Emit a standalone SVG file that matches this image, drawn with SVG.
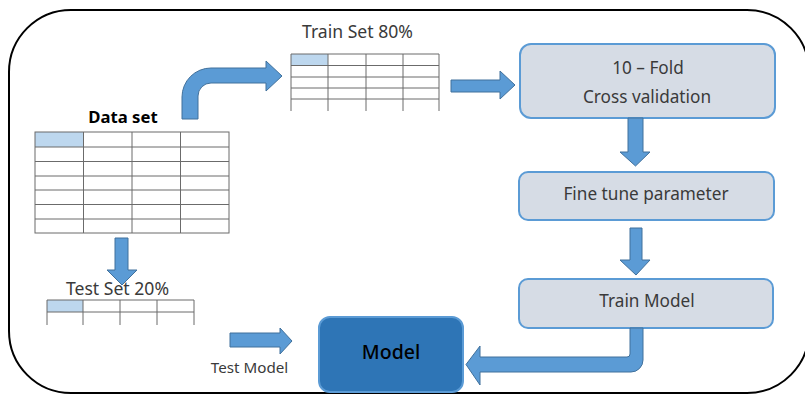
<svg xmlns="http://www.w3.org/2000/svg" width="805" height="394" viewBox="0 0 805 394">
<style>
.txt{font-family:"Noto Sans","Open Sans",sans-serif;fill:#3a3a3a}
.box{fill:#D6DCE5;stroke:#5B9BD5;stroke-width:2}
.arr{fill:#5B9BD5;stroke:#41719C;stroke-width:1}
.grid{stroke:#6b6b6b;stroke-width:1;fill:none}
.hl{fill:#BDD7EE}
</style>
<rect x="9" y="10" width="800" height="383" rx="62" ry="62" fill="#fff" stroke="#000" stroke-width="2"/>

<g id="dataset">
<text class="txt" x="123" y="123" font-size="16.7" font-weight="bold" text-anchor="middle" style="fill:#000">Data set</text>
<rect class="hl" x="35" y="132" width="48.5" height="15"/>
<g class="grid">
<rect x="35" y="132" width="194" height="101"/>
<path d="M83.5,132V233M132,132V233M180.5,132V233M35,147H229M35,161.5H229M35,176H229M35,190H229M35,204.5H229M35,219H229"/>
</g>
</g>

<g id="trainset">
<text class="txt" x="357.5" y="38" font-size="17.6" text-anchor="middle">Train Set 80%</text>
<rect class="hl" x="291" y="54" width="37" height="11.5"/>
<g class="grid">
<path d="M291,54H439M291,65.5H439M291,77H439M291,88H439M291,99H439M291,54V111M328,54V111M366,54V111M403,54V111M439,54V111"/>
</g>
</g>

<g id="testset">
<text class="txt" x="117.5" y="295" font-size="17.6" text-anchor="middle">Test Set 20%</text>
<rect class="hl" x="47" y="300" width="36" height="12"/>
<g class="grid">
<path d="M47,300H194M47,312H194M47,300V325M83,300V325M120,300V325M157,300V325M194,300V325"/>
</g>
</g>

<g id="crossval">
<rect class="box" x="520" y="44" width="255" height="74" rx="11"/>
<text class="txt" x="648" y="74" font-size="17.2" text-anchor="middle">10 – Fold</text>
<text class="txt" x="647" y="103" font-size="17.2" text-anchor="middle">Cross validation</text>
</g>

<g id="finetune">
<rect class="box" x="519" y="172" width="255" height="48" rx="9"/>
<text class="txt" x="646" y="200" font-size="17.2" text-anchor="middle">Fine tune parameter</text>
</g>

<g id="trainmodel">
<rect class="box" x="519" y="279" width="254" height="49" rx="9"/>
<text class="txt" x="647" y="307" font-size="17.2" text-anchor="middle">Train Model</text>
</g>

<g id="model">
<rect x="319" y="317" width="144" height="75" rx="11" fill="#2E75B6" stroke="#5B9BD5" stroke-width="2"/>
<text class="txt" x="391" y="359" font-size="19.5" font-weight="500" text-anchor="middle" style="fill:#000">Model</text>
</g>

<g id="testmodel-label">
<text class="txt" x="249.5" y="373" font-size="15.2" text-anchor="middle">Test Model</text>
</g>

<g id="connectors">
<path class="arr" d="M182,119 L182,97 A29,29 0 0 1 211,68 L266,68 L266,61 L282,76 L266,91 L266,83 L211,83 A13,13 0 0 0 198,96 L198,119 Z"/>
<path class="arr" d="M451,80 H500 V71 L515,85 L500,99 V92 H451 Z"/>
<path class="arr" d="M628,118 H643 V152 H650 L635.5,166 L620,152 H628 Z"/>
<path class="arr" d="M630,228 H642 V260 H650 L636,275 L620,260 H630 Z"/>
<path class="arr" d="M630,328 L643,328 L643,360 A12,12 0 0 1 631,372 L480,372 L480,385 L466,364.5 L480,346 L480,357 L627,357 A3,3 0 0 0 630,354 Z"/>
<path class="arr" d="M115,238 H128 V270 H137 L122,285 L107,270 H115 Z"/>
<path class="arr" d="M230,333 H280 V328 L292,341 L280,354 V347 H230 Z"/>
</g>
</svg>
